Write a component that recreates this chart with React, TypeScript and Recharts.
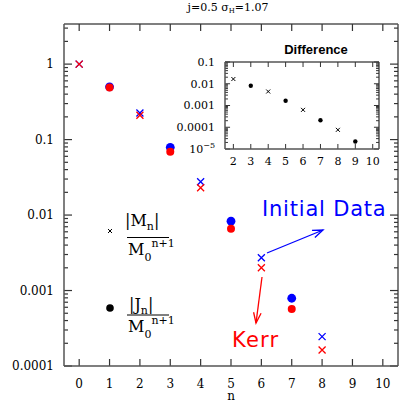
import { ScatterChart, Scatter, XAxis, YAxis, ReferenceLine } from 'recharts';

// main panel: |M_n|/M0^(n+1) at even n, |J_n|/M0^(n+1) at odd n
const nEven = [0, 2, 4, 6, 8];
const nOdd = [1, 3, 5, 7];
const massInitial = [1, 0.225, 0.0276, 0.00272, 0.000245];
const massKerr = [1, 0.21, 0.023, 0.002, 0.000163];
const spinInitial = [0.5, 0.079, 0.0083, 0.00079];
const spinKerr = [0.49, 0.069, 0.0066, 0.00057];

// inset: difference
const diffMassN = [2, 4, 6, 8];
const diffMass = [0.0165, 0.0044, 0.00063, 0.000076];
const diffSpinN = [3, 5, 7, 9];
const diffSpin = [0.0081, 0.00165, 0.00021, 0.000022];

const nTicks = [0, 1, 2, 3, 4, 5, 6, 7, 8, 9, 10];
const insetNTicks = [2, 3, 4, 5, 6, 7, 8, 9, 10];
const decades = [0.0001, 0.001, 0.01, 0.1, 1];
const decadeLabels = ['0.0001', '0.001', '0.01', '0.1', '1'];
const insetDecades = [0.00001, 0.0001, 0.001, 0.01, 0.1];
const insetDecadeLabels = ['1e-5', '0.0001', '0.001', '0.01', '0.1'];

const BLUE = '#0000ff';
const RED = '#ff0000';
const AXIS = '#555';
const TICK = '#333';
const SERIF = '"DejaVu Serif", serif';
const SANS = '"DejaVu Sans", sans-serif';

const pts = (xs: number[], ys: number[]) => xs.map((x, i) => ({ x, y: ys[i] }));

const withMinors = (majors: number[], max: number) => {
  const out: number[] = [];
  majors.forEach((d) => {
    for (let k = 1; k <= 9; k++) if (d * k <= max * 1.0001) out.push(d * k);
  });
  return out;
};
const isMajor = (majors: number[], v: number) => majors.some((m) => Math.abs(m - v) / m < 1e-6);

// inward tick marks + frame, in data units of each panel
type Box = { x0: number; x1: number; y0: number; y1: number; xf: number; big: number; small: number };
function frameSegments(b: Box, xt: number[], yt: number[], majors: number[]) {
  const segs: { x: number; y: number }[][] = [];
  xt.forEach((n) => {
    segs.push([{ x: n, y: b.y0 }, { x: n, y: b.y0 * b.xf }]);
    segs.push([{ x: n, y: b.y1 }, { x: n, y: b.y1 / b.xf }]);
  });
  yt.forEach((v) => {
    const len = isMajor(majors, v) ? b.big : b.small;
    segs.push([{ x: b.x0, y: v }, { x: b.x0 + len, y: v }]);
    segs.push([{ x: b.x1, y: v }, { x: b.x1 - len, y: v }]);
  });
  return segs;
}

const cross = (color: string, s: number, w: number) => (p: any) => (
  <path
    d={`M${p.cx - s},${p.cy - s}L${p.cx + s},${p.cy + s}M${p.cx - s},${p.cy + s}L${p.cx + s},${p.cy - s}`}
    stroke={color}
    strokeWidth={w}
    fill="none"
  />
);
const dot = (color: string, r: number) => (p: any) => <circle cx={p.cx} cy={p.cy} r={r} fill={color} />;

function yLabel(majors: number[], labels: string[], fs: number) {
  return (p: any) => {
    const i = majors.findIndex((m) => Math.abs(m - p.payload.value) / m < 1e-6);
    const lab = i >= 0 ? labels[i] : '';
    return (
      <text x={p.x} y={p.y} dy="0.35em" textAnchor="end" fontFamily={SERIF} fontSize={fs} fill="#000">
        {lab === '1e-5' ? (
          <>
            10<tspan dy={-5} fontSize={fs - 3}>−5</tspan>
          </>
        ) : (
          lab
        )}
      </text>
    );
  };
}

function xLabel(fs: number) {
  return (p: any) => (
    <text x={p.x} y={p.y} dy="0.71em" textAnchor="middle" fontFamily={SERIF} fontSize={fs} fill="#000">
      {p.payload.value}
    </text>
  );
}

function Arrow({ x1, y1, x2, y2, color }: { x1: number; y1: number; x2: number; y2: number; color: string }) {
  const a = Math.atan2(y2 - y1, x2 - x1);
  const h = 11;
  const s = 0.35;
  return (
    <g stroke={color} strokeWidth={1.3} fill="none">
      <line x1={x1} y1={y1} x2={x2} y2={y2} />
      <polyline
        points={`${x2 - h * Math.cos(a - s)},${y2 - h * Math.sin(a - s)} ${x2},${y2} ${x2 - h * Math.cos(a + s)},${y2 - h * Math.sin(a + s)}`}
      />
    </g>
  );
}

const mainBox: Box = { x0: -0.5, x1: 10.5, y0: 0.0001, y1: 3.4, xf: 1.238, big: 0.264, small: 0.132 };
const insetBox: Box = { x0: 1.52, x1: 10.36, y0: 0.00001, y1: 0.1, xf: 1.7, big: 0.29, small: 0.17 };

export default function App() {
  const mainY = withMinors(decades, mainBox.y1);
  const insetY = withMinors(insetDecades, insetBox.y1);
  const line = { stroke: AXIS, strokeWidth: 1.5 };
  const mainSegs = frameSegments(mainBox, nTicks, mainY, decades);
  const insetSegs = frameSegments(insetBox, insetNTicks, insetY, insetDecades);
  const frame = (b: Box) => [
    [{ x: b.x0, y: b.y1 }, { x: b.x1, y: b.y1 }],
    [{ x: b.x1, y: b.y0 }, { x: b.x1, y: b.y1 }],
  ];
  return (
    <div style={{ position: 'absolute', left: 0, top: 0, width: 420, height: 420, background: '#fff' }}>
      <div style={{ position: 'absolute', left: 0, top: 0 }}>
        <ScatterChart width={420} height={420} margin={{ top: 24, right: 22, bottom: 14, left: 0 }}>
          <XAxis xAxisId="b" type="number" dataKey="x" domain={[mainBox.x0, mainBox.x1]} ticks={nTicks} interval={0} height={40}
            tickSize={0} tickMargin={13} tickLine={false} axisLine={line} tick={xLabel(12)} allowDataOverflow />
          <YAxis yAxisId="l" type="number" dataKey="y" scale="log" domain={[mainBox.y0, mainBox.y1]} ticks={decades} interval={0} width={64}
            tickSize={0} tickMargin={10} tickLine={false} axisLine={line} tick={yLabel(decades, decadeLabels, 12)} allowDataOverflow />
          {frame(mainBox).map((s, i) => (
            <ReferenceLine key={'f' + i} xAxisId="b" yAxisId="l" segment={s} stroke={AXIS} strokeWidth={1.5} ifOverflow="visible" />
          ))}
          {mainSegs.map((s, i) => (
            <ReferenceLine key={'t' + i} xAxisId="b" yAxisId="l" segment={s} stroke={TICK} strokeWidth={1.2} ifOverflow="visible" />
          ))}
          <Scatter xAxisId="b" yAxisId="l" data={pts(nEven, massInitial)} shape={cross(BLUE, 3.5, 1.3)} isAnimationActive={false} />
          <Scatter xAxisId="b" yAxisId="l" data={pts(nEven, massKerr)} shape={cross(RED, 3.5, 1.3)} isAnimationActive={false} />
          <Scatter xAxisId="b" yAxisId="l" data={pts(nOdd, spinInitial)} shape={dot(BLUE, 4.4)} isAnimationActive={false} />
          <Scatter xAxisId="b" yAxisId="l" data={pts(nOdd, spinKerr)} shape={dot(RED, 4)} isAnimationActive={false} />
        </ScatterChart>
      </div>
      <div style={{ position: 'absolute', left: 0, top: 0 }}>
        <ScatterChart width={420} height={420} margin={{ top: 62, right: 41, bottom: 251, left: 180 }}>
          <XAxis xAxisId="b" type="number" dataKey="x" domain={[insetBox.x0, insetBox.x1]} ticks={insetNTicks} interval={0} height={20}
            tickSize={0} tickMargin={8} tickLine={false} axisLine={line} tick={xLabel(11)} allowDataOverflow />
          <YAxis yAxisId="l" type="number" dataKey="y" scale="log" domain={[insetBox.y0, insetBox.y1]} ticks={insetDecades} interval={0} width={45}
            tickSize={0} tickMargin={10} tickLine={false} axisLine={line} tick={yLabel(insetDecades, insetDecadeLabels, 11)} allowDataOverflow />
          {frame(insetBox).map((s, i) => (
            <ReferenceLine key={'f' + i} xAxisId="b" yAxisId="l" segment={s} stroke={AXIS} strokeWidth={1.5} ifOverflow="visible" />
          ))}
          {insetSegs.map((s, i) => (
            <ReferenceLine key={'t' + i} xAxisId="b" yAxisId="l" segment={s} stroke={TICK} strokeWidth={1} ifOverflow="visible" />
          ))}
          <Scatter xAxisId="b" yAxisId="l" data={pts(diffMassN, diffMass)} shape={cross('#000', 2, 1)} isAnimationActive={false} />
          <Scatter xAxisId="b" yAxisId="l" data={pts(diffSpinN, diffSpin)} shape={dot('#000', 2.2)} isAnimationActive={false} />
        </ScatterChart>
      </div>
      <svg width={420} height={420} style={{ position: 'absolute', left: 0, top: 0, pointerEvents: 'none' }}>
        <text x={228} y={11} textAnchor="middle" fontFamily={SERIF} fontSize={11}>
          j=0.5  σ<tspan dy={2} fontSize={7}>H</tspan><tspan dy={-2}>=1.07</tspan>
        </text>
        <text x={316} y={54} textAnchor="middle" fontFamily='"Liberation Sans", sans-serif' fontWeight="bold" fontSize={13}>
          Difference
        </text>
        <text x={231} y={400} textAnchor="middle" fontFamily={SERIF} fontSize={12}>n</text>

        <path d="M108,229L112,233M108,233L112,229" stroke="#000" strokeWidth={1} />
        <text x={125} y={226} fontFamily={SERIF} fontSize={16}>
          |M<tspan dy={4} fontSize={11}>n</tspan><tspan dy={-4}>|</tspan>
        </text>
        <line x1={127} x2={169} y1={237.5} y2={237.5} stroke="#000" strokeWidth={1} />
        <text x={128} y={255} fontFamily={SERIF} fontSize={16}>
          M<tspan dy={6} fontSize={11}>0</tspan><tspan dy={-14} fontSize={11}>n+1</tspan>
        </text>

        <circle cx={110} cy={308} r={3.8} fill="#000" />
        <text x={129} y={310} fontFamily={SERIF} fontSize={16}>
          |J<tspan dy={4} fontSize={11}>n</tspan><tspan dy={-4}>|</tspan>
        </text>
        <line x1={127} x2={169} y1={315} y2={315} stroke="#000" strokeWidth={1} />
        <text x={128} y={332} fontFamily={SERIF} fontSize={16}>
          M<tspan dy={6} fontSize={11}>0</tspan><tspan dy={-14} fontSize={11}>n+1</tspan>
        </text>

        <text x={262} y={216} fontFamily={SANS} fontSize={21} letterSpacing={0.8} fill={BLUE}>Initial Data</text>
        <Arrow x1={267} y1={253} x2={323} y2={230} color={BLUE} />
        <text x={232} y={347} fontFamily={SANS} fontSize={21} letterSpacing={1.2} fill={RED}>Kerr</text>
        <Arrow x1={262} y1={277} x2={256} y2={323} color={RED} />
      </svg>
    </div>
  );
}
